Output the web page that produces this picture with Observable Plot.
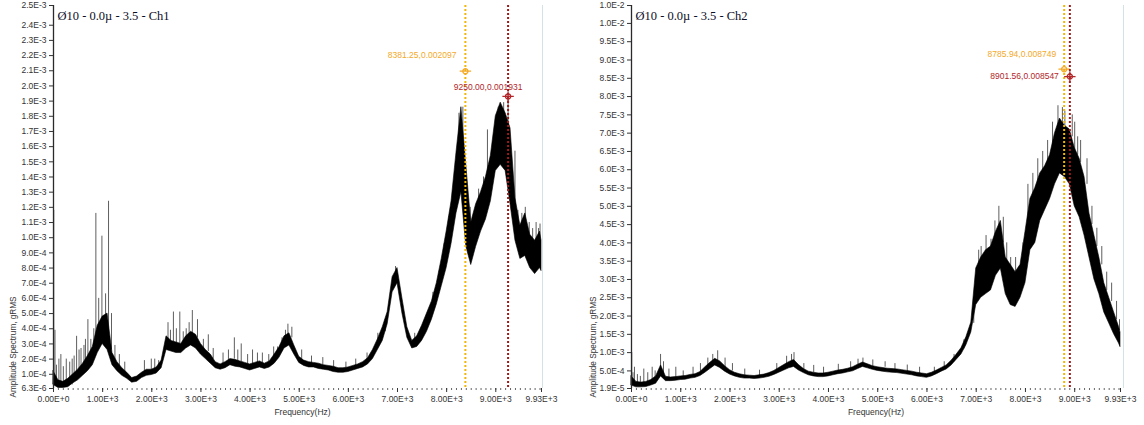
<!DOCTYPE html>
<html>
<head>
<meta charset="utf-8">
<script src="https://cdn.jsdelivr.net/npm/d3@7"></script>
<script src="https://cdn.jsdelivr.net/npm/@observablehq/plot@0.6"></script>
<style>
  html, body { margin: 0; padding: 0; background: #fff; }
  #row { display: flex; width: 1144px; height: 425px; }
  #row > div { width: 572px; height: 425px; }
  svg { display: block; }
</style>
</head>
<body>
<div id="row"><div id="ch1"></div><div id="ch2"></div></div>
<script>
// Frequency bins (Hz) shared by both channels
const freqBins = [
  0, 100, 200, 300, 400, 500, 600, 700, 800, 900,
  1000, 1100, 1200, 1300, 1400, 1500, 1600, 1700, 1800, 1900,
  2000, 2100, 2200, 2300, 2400, 2500, 2600, 2700, 2800, 2900,
  3000, 3100, 3200, 3300, 3400, 3500, 3600, 3700, 3800, 3900,
  4000, 4100, 4200, 4300, 4400, 4500, 4600, 4700, 4800, 4900,
  5000, 5100, 5200, 5300, 5400, 5500, 5600, 5700, 5800, 5900,
  6000, 6100, 6200, 6300, 6400, 6500, 6600, 6700, 6800, 6900,
  7000, 7100, 7200, 7300, 7400, 7500, 7600, 7700, 7800, 7900,
  8000, 8100, 8200, 8300, 8400, 8500, 8600, 8700, 8800, 8900,
  9000, 9100, 9200, 9300, 9400, 9500, 9600, 9700, 9800, 9900, 9930
];

// Ch1 spectrum envelope per bin, in units of 1e-4 gRMS
const ch1Low = [
  0.3, 0.1, 0.1, 0.15, 0.4, 0.6, 0.9, 1.2, 1.6, 2.4,
  3.0, 2.6, 1.6, 1.2, 0.9, 0.7, 0.45, 0.5, 0.75, 0.9,
  0.95, 1.05, 1.4, 2.6, 2.5, 2.4, 2.4, 2.7, 2.9, 2.7,
  2.3, 2.0, 1.7, 1.4, 1.3, 1.4, 1.6, 1.5, 1.45, 1.35,
  1.25, 1.35, 1.45, 1.35, 1.45, 1.7, 2.1, 2.7, 2.9, 2.3,
  1.75, 1.55, 1.45, 1.45, 1.35, 1.3, 1.25, 1.15, 1.1, 1.1,
  1.15, 1.25, 1.35, 1.45, 1.65, 2.0, 2.6, 3.2, 4.3, 6.4,
  7.0, 5.0, 3.4, 2.7, 2.8, 3.2, 3.8, 4.6, 5.6, 6.8,
  8.0, 9.6, 11.6, 13.0, 9.4, 8.2, 9.4, 10.4, 11.2, 12.4,
  14.4, 14.8, 14.4, 12.2, 9.8, 8.6, 8.8, 8.0, 7.6, 8.0, 7.8
];
const ch1High = [
  1.2, 0.6, 0.5, 0.7, 1.0, 1.3, 1.7, 2.2, 2.8, 4.2,
  4.8, 5.0, 2.4, 1.8, 1.4, 1.1, 0.75, 0.85, 1.1, 1.3,
  1.3, 1.45, 1.9, 3.5, 3.2, 3.1, 3.0, 3.5, 3.8, 3.6,
  3.0, 2.6, 2.3, 1.8, 1.65, 1.8, 2.0, 1.95, 1.85, 1.75,
  1.65, 1.75, 1.85, 1.7, 1.85, 2.3, 2.8, 3.5, 3.7, 2.9,
  2.15, 1.9, 1.8, 1.75, 1.7, 1.6, 1.55, 1.5, 1.4, 1.4,
  1.45, 1.55, 1.65, 1.8, 2.05, 2.6, 3.3, 4.1, 5.1, 7.4,
  8.0, 6.0, 4.1, 3.2, 3.5, 4.2, 5.0, 5.8, 7.0, 8.6,
  10.4, 12.4, 15.6, 18.6, 14.8, 11.0, 12.2, 13.0, 14.0, 15.4,
  18.0, 18.9, 18.2, 17.2, 12.6, 10.8, 11.6, 10.2, 9.8, 10.4, 9.8
];
// Ch1 isolated spikes: frequency (Hz), foot and tip (1e-4 gRMS)
const ch1SpikeFreq = [
  5, 30, 60, 110, 150, 200, 260, 330, 380, 420, 470, 520, 560, 620, 650, 700, 760, 820, 862, 920,
  985, 1060, 1120, 1180, 1250, 1340, 1450, 1850, 1990, 2060, 2140, 2330, 2380, 2440, 2500, 2570, 2640, 2700, 2760, 2825,
  2930, 3050, 3150, 3250, 3450, 3560, 3680, 3750, 3820, 3950, 4050, 4150, 4250, 4380, 4480, 4560, 4650, 4720, 4770, 4850,
  5050, 5250, 5480, 5700, 5950, 6150, 6380, 6600, 6750, 6960, 7350, 7550, 7720, 7850, 7950, 8050, 8150, 8250, 8330, 8480,
  8650, 8750, 8830, 8950, 9050, 9160, 9250, 9390, 9450, 9530, 9600, 9680, 9750, 9820, 9870, 9900
];
const ch1SpikeFoot = [
  0.3, 0.3, 0.2, 0.2, 0.3, 0.2, 0.3, 0.3, 0.3, 0.6, 1.0, 0.8, 1.2, 1.2, 1.2, 2.0, 2.0, 2.0, 3.0, 3.5,
  4.0, 4.0, 4.0, 2.6, 1.8, 1.3, 1.0, 1.0, 1.2, 1.2, 1.5, 3.0, 2.8, 3.0, 2.8, 3.0, 2.8, 3.4, 3.0, 3.5,
  3.4, 2.6, 2.5, 2.0, 1.6, 1.8, 2.0, 1.8, 1.8, 1.6, 1.6, 1.6, 1.7, 1.6, 2.0, 2.0, 2.5, 3.0, 3.4, 3.4,
  2.0, 1.7, 1.6, 1.4, 1.4, 1.5, 1.8, 3.0, 3.8, 7.5, 3.0, 3.8, 5.4, 6.6, 8.2, 9.6, 11.4, 14.0, 15.0, 10.2,
  11.6, 12.4, 13.5, 14.4, 16.0, 16.0, 16.0, 11.0, 10.4, 10.2, 10.0, 9.8, 9.8, 9.0, 9.8, 9.5
];
const ch1SpikeTip = [
  11.8, 3.9, 1.6, 2.0, 2.3, 1.5, 2.0, 1.8, 2.0, 2.2, 3.5, 2.6, 2.7, 2.9, 3.3, 4.6, 3.3, 4.0, 11.6, 6.0,
  10.1, 6.3, 12.4, 5.0, 2.9, 2.3, 1.8, 1.9, 2.0, 2.0, 1.9, 4.4, 3.9, 5.1, 4.0, 5.1, 3.8, 4.0, 4.4, 5.2,
  4.6, 3.3, 3.6, 2.7, 2.4, 2.6, 3.4, 2.6, 3.0, 2.3, 2.6, 2.4, 2.4, 2.3, 2.8, 2.8, 3.4, 3.9, 4.3, 4.1,
  2.6, 2.2, 2.1, 1.9, 1.8, 2.0, 2.4, 3.7, 4.6, 8.1, 3.7, 4.6, 6.4, 7.8, 9.6, 11.4, 13.4, 18.2, 18.6, 12.0,
  13.2, 14.0, 17.1, 16.4, 18.6, 18.9, 19.3, 15.7, 11.8, 11.6, 12.0, 11.0, 10.6, 11.0, 10.6, 10.9
];

// Ch2 spectrum envelope per bin, in units of 1e-3 gRMS
const ch2Low = [
  0.10, 0.05, 0.05, 0.06, 0.10, 0.15, 0.35, 0.22, 0.22, 0.23,
  0.25, 0.26, 0.29, 0.31, 0.36, 0.45, 0.55, 0.65, 0.58, 0.48,
  0.40, 0.35, 0.31, 0.29, 0.29, 0.28, 0.29, 0.31, 0.34, 0.39,
  0.45, 0.51, 0.57, 0.61, 0.51, 0.44, 0.38, 0.35, 0.33, 0.33,
  0.35, 0.38, 0.41, 0.43, 0.46, 0.49, 0.55, 0.61, 0.57, 0.53,
  0.50, 0.48, 0.46, 0.45, 0.44, 0.42, 0.40, 0.38, 0.35, 0.33,
  0.31, 0.35, 0.41, 0.48, 0.54, 0.65, 0.80, 0.95, 1.20, 1.55,
  2.30, 2.50, 2.60, 2.70, 3.10, 3.30, 2.60, 2.30, 2.25, 2.50,
  2.90, 3.80, 4.00, 4.60, 4.90, 5.20, 5.60, 5.90, 5.80, 5.60,
  5.00, 4.70, 4.20, 3.60, 3.00, 2.60, 2.10, 1.80, 1.50, 1.25, 1.15
];
const ch2High = [
  0.35, 0.20, 0.18, 0.20, 0.25, 0.35, 0.65, 0.34, 0.32, 0.33,
  0.35, 0.36, 0.39, 0.41, 0.47, 0.60, 0.72, 0.83, 0.76, 0.63,
  0.52, 0.45, 0.41, 0.38, 0.37, 0.36, 0.38, 0.40, 0.44, 0.50,
  0.58, 0.66, 0.74, 0.80, 0.66, 0.55, 0.48, 0.45, 0.43, 0.43,
  0.45, 0.48, 0.51, 0.53, 0.56, 0.60, 0.67, 0.73, 0.68, 0.63,
  0.60, 0.58, 0.56, 0.55, 0.54, 0.52, 0.50, 0.48, 0.45, 0.43,
  0.41, 0.45, 0.51, 0.58, 0.65, 0.78, 0.94, 1.12, 1.42, 1.82,
  3.30, 3.60, 3.80, 3.90, 4.30, 4.60, 3.60, 3.40, 3.20, 3.40,
  4.30, 5.20, 5.50, 5.90, 6.10, 6.40, 7.00, 7.40, 7.20, 7.10,
  6.60, 6.30, 5.80, 4.80, 4.20, 3.60, 2.90, 2.50, 2.10, 1.70, 1.55
];
// Ch2 isolated spikes: frequency (Hz), foot and tip (1e-3 gRMS)
const ch2SpikeFreq = [
  5, 30, 60, 120, 180, 250, 330, 420, 480, 590, 650, 760, 900, 1050, 1250, 1400, 1550, 1650, 1750, 1900,
  2050, 2300, 2600, 2950, 3150, 3250, 3300, 3500, 3700, 3900, 4200, 4450, 4600, 4700, 4900, 5150, 5350, 5600, 5850, 6150,
  6350, 6550, 6750, 6950, 7050, 7100, 7200, 7300, 7380, 7460, 7550, 7620, 7700, 7800, 7950, 8050, 8150, 8250, 8350, 8450,
  8550, 8660, 8750, 8800, 8950, 9000, 9060, 9120, 9250, 9350, 9450, 9550, 9650, 9750, 9850, 9910
];
const ch2SpikeFoot = [
  0.1, 0.1, 0.2, 0.1, 0.1, 0.15, 0.15, 0.2, 0.25, 0.55, 0.4, 0.3, 0.3, 0.3, 0.35, 0.45, 0.55, 0.7, 0.75, 0.6,
  0.5, 0.35, 0.35, 0.45, 0.6, 0.7, 0.75, 0.5, 0.45, 0.42, 0.5, 0.55, 0.6, 0.7, 0.6, 0.6, 0.52, 0.48, 0.42, 0.42,
  0.55, 0.75, 1.1, 1.8, 3.2, 3.4, 3.6, 3.6, 4.0, 4.2, 4.0, 3.4, 3.2, 3.0, 3.2, 4.6, 5.0, 5.4, 5.8, 6.0,
  6.4, 7.0, 7.2, 7.0, 6.9, 6.5, 6.4, 6.2, 5.6, 4.5, 3.9, 3.4, 2.7, 2.4, 1.9, 1.6
];
const ch2SpikeTip = [
  1.0, 0.45, 0.6, 0.4, 0.35, 0.55, 0.45, 0.6, 0.5, 0.95, 0.75, 0.55, 0.6, 0.5, 0.6, 0.7, 0.85, 0.95, 1.05, 0.85,
  0.7, 0.55, 0.52, 0.7, 0.9, 0.95, 1.0, 0.7, 0.65, 0.6, 0.68, 0.75, 0.82, 0.85, 0.8, 0.75, 0.7, 0.66, 0.6, 0.6,
  0.75, 0.95, 1.35, 2.4, 3.8, 3.9, 4.2, 4.1, 4.6, 5.0, 4.7, 4.0, 3.6, 3.6, 4.0, 5.6, 5.9, 6.3, 6.5, 6.8,
  7.3, 7.75, 7.7, 7.6, 7.5, 7.3, 6.9, 6.8, 6.3, 5.0, 4.4, 3.9, 3.2, 2.9, 2.4, 1.9
];

// Cursor readouts (Hz, gRMS)
const ch1CursorFreq = [8381.25, 9250.00];
const ch1CursorValue = [0.002097, 0.001931];
const ch2CursorFreq = [8785.94, 8901.56];
const ch2CursorValue = [0.008749, 0.008547];

// Axis ticks
const freqTicks = [0, 1000, 2000, 3000, 4000, 5000, 6000, 7000, 8000, 9000, 9930];
const ch1Ticks = [0.0000063, 0.0001, 0.0002, 0.0003, 0.0004, 0.0005, 0.0006, 0.0007, 0.0008, 0.0009,
  0.001, 0.0011, 0.0012, 0.0013, 0.0014, 0.0015, 0.0016, 0.0017, 0.0018, 0.0019,
  0.002, 0.0021, 0.0022, 0.0023, 0.0024, 0.00253];
const ch2Ticks = [0.000019, 0.0005, 0.001, 0.0015, 0.002, 0.0025, 0.003, 0.0035, 0.004, 0.0045,
  0.005, 0.0055, 0.006, 0.0065, 0.007, 0.0075, 0.008, 0.0085, 0.009, 0.0095, 0.01, 0.01049];

const fmtY = d => d.toExponential(1).toUpperCase();
const fmtX = d => d.toExponential(2).toUpperCase();

// Cursor glyph: ring with a horizontal bar (first cursor) or a cross (second cursor)
const ringBar = {
  draw(ctx, size) {
    const r = Math.sqrt(size / Math.PI);
    ctx.moveTo(r, 0); ctx.arc(0, 0, r, 0, 2 * Math.PI);
    ctx.moveTo(-2.2 * r, 0); ctx.lineTo(2.2 * r, 0);
  }
};
const ringCross = {
  draw(ctx, size) {
    const r = Math.sqrt(size / Math.PI);
    ctx.moveTo(r, 0); ctx.arc(0, 0, r, 0, 2 * Math.PI);
    ctx.moveTo(-2.2 * r, 0); ctx.lineTo(2.2 * r, 0);
    ctx.moveTo(0, -2 * r); ctx.lineTo(0, 2 * r);
  }
};

const cursorStyles = [
  {line: "#f2b705", text: "#f3a928", symbol: ringBar},
  {line: "#9b1b1b", text: "#b3262a", symbol: ringCross}
];

function spectrum(cfg) {
  const band = freqBins.map((f, i) => ({f, lo: cfg.low[i] * cfg.unit, hi: cfg.high[i] * cfg.unit}));
  const spikes = cfg.spikeFreq.map((f, i) => ({f, foot: cfg.spikeFoot[i] * cfg.unit, tip: cfg.spikeTip[i] * cfg.unit}));
  const cursors = cfg.cursorFreq.map((f, i) => ({f, v: cfg.cursorValue[i], label: `${f.toFixed(2)},${cfg.cursorValue[i].toFixed(6)}`}));

  const cursorMarks = cursors.flatMap((c, i) => [
    Plot.ruleX([c], {x: "f", stroke: cursorStyles[i].line, strokeWidth: 2, strokeDasharray: "2,2"}),
    Plot.dot([c], {x: "f", y: "v", r: 2.6, symbol: cursorStyles[i].symbol, stroke: cursorStyles[i].text, strokeWidth: 1.3, fill: "none"}),
    Plot.text([c], {x: "f", y: "v", text: "label", fill: cursorStyles[i].text, fontSize: 8.5,
      textAnchor: cfg.labelAnchor[i], dx: cfg.labelDx[i], dy: cfg.labelDy[i]})
  ]);

  return Plot.plot({
    width: 572,
    height: 425,
    marginTop: 5,
    marginBottom: 37,
    marginLeft: cfg.marginLeft,
    marginRight: cfg.marginRight,
    x: {domain: [0, 9930]},
    y: {domain: cfg.yDomain},
    style: {fontFamily: "'Liberation Sans', Arial, sans-serif", fontSize: "8.5px", color: "#333", background: "#fff"},
    marks: [
      Plot.ruleX([9930], {stroke: "#d3e3e3", dx: cfg.borderDx}),
      Plot.ruleX(spikes, {x: "f", y1: "foot", y2: "tip", stroke: "#5e5e5e", strokeWidth: 1}),
      Plot.areaY(band, {x: "f", y1: "lo", y2: "hi", fill: "#000", stroke: "#000", strokeWidth: 0.6, curve: "linear"}),
      Plot.ruleX([0], {stroke: "#2a2a2a", strokeWidth: 1.3}),
      Plot.axisY({ticks: cfg.yTicks, tickFormat: fmtY, tickSize: 4, tickPadding: 3, label: null}),
      Plot.axisX({ticks: d3.range(0, 9931, 100), tickSize: 2, tickFormat: () => "", label: null, stroke: "#666"}),
      Plot.axisX({ticks: freqTicks, tickSize: 4, tickPadding: 3, tickFormat: fmtX, label: null}),
      ...cursorMarks,
      Plot.text([cfg.title], {frameAnchor: "top-left", dx: 4, dy: 14, textAnchor: "start", lineAnchor: "bottom",
        fontFamily: "'Liberation Serif', 'Times New Roman', serif", fontSize: 12.5, fill: "#0d0d26"}),
      Plot.text(["Amplitude Spectrum, gRMS"], {frameAnchor: "bottom-left", rotate: -90, textAnchor: "start", lineAnchor: "middle",
        dx: cfg.yLabelDx, dy: 9, fontSize: 8.2}),
      Plot.text(["Frequency(Hz)"], {frameAnchor: "bottom", dx: cfg.xLabelDx, dy: 24, lineAnchor: "middle", fontSize: 8.5})
    ]
  });
}

document.getElementById("ch1").append(spectrum({
  title: "Ø10 - 0.0µ - 3.5 - Ch1",
  unit: 1e-4,
  low: ch1Low, high: ch1High,
  spikeFreq: ch1SpikeFreq, spikeFoot: ch1SpikeFoot, spikeTip: ch1SpikeTip,
  cursorFreq: ch1CursorFreq, cursorValue: ch1CursorValue,
  labelAnchor: ["end", "middle"], labelDx: [-9, -20], labelDy: [-16, -9],
  yDomain: [0.0000063, 0.00253], yTicks: ch1Ticks,
  marginLeft: 53, marginRight: 31, borderDx: 1,
  yLabelDx: -40, xLabelDx: 5
}));

document.getElementById("ch2").append(spectrum({
  title: "Ø10 - 0.0µ - 3.5 - Ch2",
  unit: 1e-3,
  low: ch2Low, high: ch2High,
  spikeFreq: ch2SpikeFreq, spikeFoot: ch2SpikeFoot, spikeTip: ch2SpikeTip,
  cursorFreq: ch2CursorFreq, cursorValue: ch2CursorValue,
  labelAnchor: ["end", "end"], labelDx: [-8, -11], labelDy: [-15, 0],
  yDomain: [0.000019, 0.01049], yTicks: ch2Ticks,
  marginLeft: 59, marginRight: 24, borderDx: 3,
  yLabelDx: -38, xLabelDx: 0
}));
</script>
</body>
</html>
